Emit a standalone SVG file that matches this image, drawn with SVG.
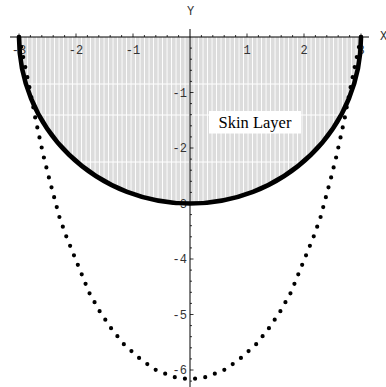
<svg xmlns="http://www.w3.org/2000/svg" width="386" height="387" viewBox="0 0 386 387">
<style>
.tk{font-family:"Liberation Mono","DejaVu Sans Mono",monospace;font-size:12px;fill:#333}
.ax{stroke:#000;stroke-width:1;fill:none}
.tick{stroke:#000;stroke-width:0.8;fill:none}
</style>
<defs>
<pattern id="hatch" patternUnits="userSpaceOnUse" x="19" y="0" width="4.5" height="20">
<rect width="4.5" height="20" fill="#dcdcdc"/>
<rect x="3.6" width="0.9" height="20" fill="#fff"/>
</pattern>
</defs>
<rect width="386" height="387" fill="#fff"/>
<g id="skin-fill">
<path d="M19 37 A171 166.5 0 0 0 361 37 Z" fill="url(#hatch)"/>
<path d="M26 84H354M39 115H341M77 162H303" stroke="#fff" stroke-width="1"/>
</g>
<g id="axes">
<path class="ax" d="M10 37H369M190 29V387"/>
<path class="tick" d="M30.4 37v-2M41.8 37v-2M53.2 37v-2M64.6 37v-2M87.4 37v-2M98.8 37v-2M110.2 37v-2M121.6 37v-2M144.4 37v-2M155.8 37v-2M167.2 37v-2M178.6 37v-2M201.4 37v-2M212.8 37v-2M224.2 37v-2M235.6 37v-2M258.4 37v-2M269.8 37v-2M281.2 37v-2M292.6 37v-2M315.4 37v-2M326.8 37v-2M338.2 37v-2M349.6 37v-2"/>
<path class="tick" d="M19 37v-3.5M76 37v-3.5M133 37v-3.5M247 37v-3.5M304 37v-3.5M361 37v-3.5"/>
<path class="tick" d="M190 48.1h2M190 59.2h2M190 70.3h2M190 81.4h2M190 103.6h2M190 114.7h2M190 125.8h2M190 136.9h2M190 159.1h2M190 170.2h2M190 181.3h2M190 192.4h2M190 214.6h2M190 225.7h2M190 236.8h2M190 247.9h2M190 270.1h2M190 281.2h2M190 292.3h2M190 303.4h2M190 325.6h2M190 336.7h2M190 347.8h2M190 358.9h2M190 381.1h2"/>
<path class="tick" d="M190 92.5h3.5M190 148h3.5M190 203.5h3.5M190 259h3.5M190 314.5h3.5M190 370h3.5"/>
</g>
<g id="tick-labels" class="tk">
<g text-anchor="middle">
<text x="19" y="54">-3</text>
<text x="76" y="54">-2</text>
<text x="133" y="54">-1</text>
<text x="247" y="54">1</text>
<text x="304" y="54">2</text>
<text x="361" y="54">3</text>
<text x="190.5" y="15">Y</text>
</g>
<text x="380" y="40">X</text>
<g text-anchor="end">
<text x="187" y="96.8">-1</text>
<text x="187" y="152.3">-2</text>
<text x="187" y="207.8">-3</text>
<text x="187" y="263.3">-4</text>
<text x="187" y="318.8">-5</text>
<text x="187" y="374.3">-6</text>
</g>
</g>
<g id="dotted-curve">
<path pathLength="79" d="M19 37L25.5 68L31.3 96.7L35 116.7L39.3 136.7L43.7 156.7L48.7 176.7L54 196.7L59.3 216.7L66 235.7L73.7 254.7L81.3 273.3L89 292.3L99.3 310.7L110.7 327.7L123.3 343.7L138.3 357.3L154.3 369.3L173.3 377L190 379.4L206.7 377L225.7 369.3L241.7 357.3L256.7 343.7L269.3 327.7L280.7 310.7L291 292.3L298.7 273.3L306.3 254.7L314 235.7L320.7 216.7L326 196.7L331.3 176.7L336.3 156.7L340.7 136.7L345 116.7L348.7 96.7L354.5 68L361 37" fill="none" stroke="#000" stroke-width="4.2" stroke-linecap="round" stroke-dasharray="0 1"/>
</g>
<g id="skin-boundary">
<path d="M19 37 A171 166.5 0 0 0 361 37" fill="none" stroke="#000" stroke-width="4.6" stroke-linecap="round"/>
</g>
<g id="skin-label">
<rect x="209" y="111" width="92" height="22.5" fill="#fff"/>
<text x="255" y="127.5" text-anchor="middle" font-family="'Liberation Serif','Times New Roman',serif" font-size="16.5" fill="#000">Skin Layer</text>
</g>
</svg>
